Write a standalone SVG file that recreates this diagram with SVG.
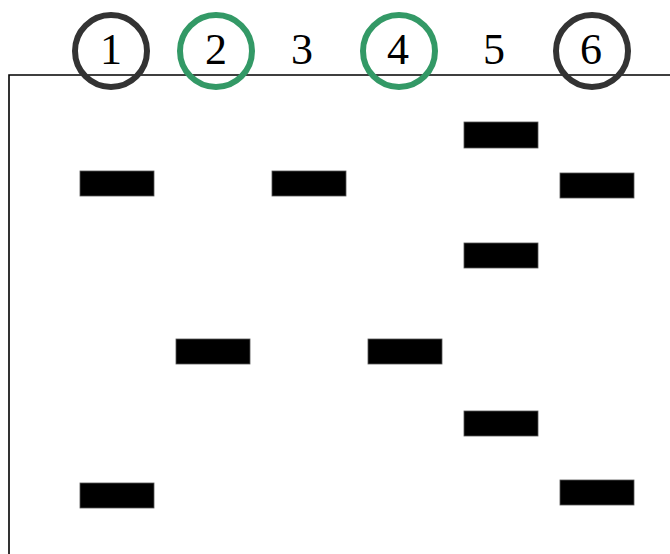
<svg xmlns="http://www.w3.org/2000/svg" width="670" height="554" viewBox="0 0 670 554">
<style>
.lbl{font-family:"Liberation Serif","Times New Roman",serif;font-size:44px;fill:#000;text-anchor:middle}
.band{fill:#000;stroke:#555;stroke-width:0.8}
.ring{fill:none;stroke-width:6}
.dark{stroke:#333333}
.green{stroke:#339966}
</style>
<rect width="670" height="554" fill="#fff"/>
<g id="frame"><path d="M9,554 V75 H672" fill="none" stroke="#000" stroke-width="1.6"/></g>
<g id="lane1"><text class="lbl" x="111" y="64">1</text><circle class="ring dark" cx="111" cy="51" r="36"/><rect class="band" x="80" y="171" width="74" height="25"/><rect class="band" x="80" y="483" width="74" height="25"/></g>
<g id="lane2"><text class="lbl" x="216" y="64">2</text><circle class="ring green" cx="216" cy="51" r="36"/><rect class="band" x="176" y="339" width="74" height="25"/></g>
<g id="lane3"><text class="lbl" x="302" y="64">3</text><rect class="band" x="272" y="171" width="74" height="25"/></g>
<g id="lane4"><text class="lbl" x="398" y="64">4</text><circle class="ring green" cx="399" cy="51" r="36"/><rect class="band" x="368" y="339" width="74" height="25"/></g>
<g id="lane5"><text class="lbl" x="494" y="64">5</text><rect class="band" x="464" y="122" width="74" height="26"/><rect class="band" x="464" y="243" width="74" height="25"/><rect class="band" x="464" y="411" width="74" height="25"/></g>
<g id="lane6"><text class="lbl" x="591" y="64">6</text><circle class="ring dark" cx="592" cy="51" r="36"/><rect class="band" x="560" y="173" width="74" height="25"/><rect class="band" x="560" y="480" width="74" height="25"/></g>
<g id="connectors"></g>
</svg>
